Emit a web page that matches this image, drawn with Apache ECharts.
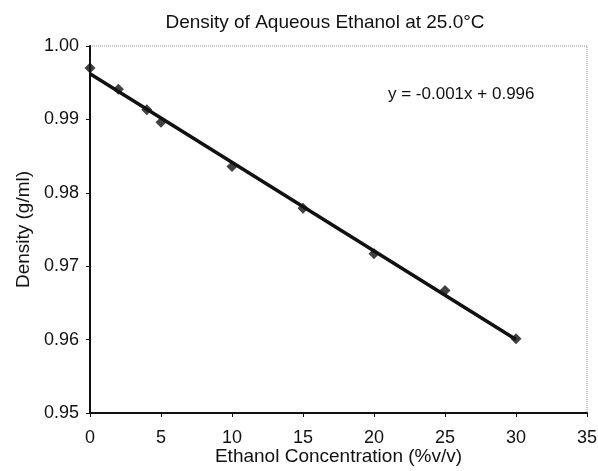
<!DOCTYPE html>
<html>
<head>
<meta charset="utf-8">
<script src="https://cdn.jsdelivr.net/npm/echarts@6/dist/echarts.min.js"></script>
<style>
  html, body { margin: 0; padding: 0; background: #fff; }
  #chart { width: 598px; height: 471px; }
</style>
</head>
<body>
<div id="chart"></div>
<script>
// measured points
var concentration = [0, 2, 4, 5, 10, 15, 20, 25, 30];
var density = [0.9970, 0.9941, 0.9913, 0.9896, 0.9836, 0.9779, 0.9717, 0.9667, 0.9601];
var equationText = 'y = -0.001x + 0.996';

// least squares fit for the trend line
function fitLine(xs, ys) {
    var n = xs.length, sx = 0, sy = 0, sxx = 0, sxy = 0;
    for (var i = 0; i < n; i++) {
        sx += xs[i]; sy += ys[i];
        sxx += xs[i] * xs[i]; sxy += xs[i] * ys[i];
    }
    var m = (n * sxy - sx * sy) / (n * sxx - sx * sx);
    var b = (sy - m * sx) / n;
    return { m: m, b: b };
}

var fit = fitLine(concentration, density);
var xFirst = concentration[0], xLast = concentration[concentration.length - 1];
var trend = [[xFirst, fit.m * xFirst + fit.b], [xLast, fit.m * xLast + fit.b]];
var points = concentration.map(function (x, i) { return [x, density[i]]; });

var chart = echarts.init(document.getElementById('chart'));
var font = 'Liberation Sans, Arial, sans-serif';

var option = {
    animation: false,
    backgroundColor: '#fff',
    title: [{
        text: 'Density of Aqueous Ethanol at 25.0°C',
        left: 320, top: 8, textAlign: 'center',
        textStyle: { fontFamily: font, fontSize: 19, fontWeight: 'normal', color: '#111' }
    }, {
        text: equationText,
        left: 383, top: 81,
        textStyle: { fontFamily: font, fontSize: 17, fontWeight: 'normal', color: '#111' }
    }],
    grid: {
        left: 90, right: 11, top: 46, bottom: 58,
        outerBoundsMode: 'none',
        show: true, borderColor: '#888', borderWidth: 1, borderType: 'dotted'
    },
    xAxis: {
        type: 'value', min: 0, max: 35, interval: 5,
        name: 'Ethanol Concentration (%v/v)',
        nameLocation: 'middle', nameGap: 34, nameMoveOverlap: false,
        nameTextStyle: { fontFamily: font, fontSize: 19, color: '#111' },
        axisLine: { lineStyle: { color: '#111', width: 2 } },
        axisTick: { show: true, length: 4, lineStyle: { color: '#111' } },
        axisLabel: { fontFamily: font, fontSize: 18, color: '#111', margin: 16 },
        splitLine: { show: false }
    },
    yAxis: {
        type: 'value', min: 0.95, max: 1.0, interval: 0.01,
        name: 'Density (g/ml)',
        nameLocation: 'middle', nameGap: 56,
        nameTextStyle: { fontFamily: font, fontSize: 19, color: '#111' },
        axisLine: { lineStyle: { color: '#111', width: 2 } },
        axisTick: { show: true, length: 4, lineStyle: { color: '#111' } },
        axisLabel: {
            fontFamily: font, fontSize: 18, color: '#111', margin: 11,
            formatter: function (v) { return v.toFixed(2); }
        },
        splitLine: { show: false }
    },
    series: [
        {
            name: 'Trend line',
            type: 'line',
            data: trend,
            showSymbol: false,
            lineStyle: { color: '#111', width: 3.5 },
            z: 2
        },
        {
            name: 'Density',
            type: 'scatter',
            data: points,
            symbol: 'diamond',
            symbolSize: 11,
            itemStyle: { color: '#111' },
            z: 3
        }
    ]
};

chart.setOption(option);
</script>
</body>
</html>
